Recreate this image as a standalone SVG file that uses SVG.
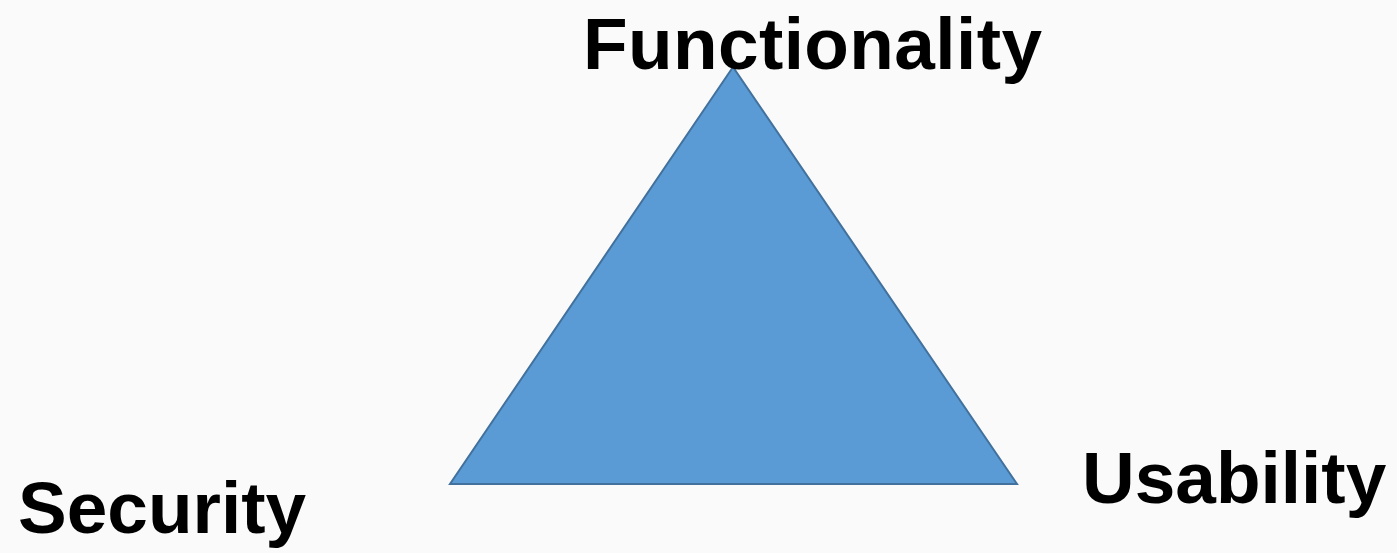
<svg xmlns="http://www.w3.org/2000/svg" width="1397" height="553" viewBox="0 0 1397 553">
<style>
.lbl{font-family:"Liberation Sans",Arial,sans-serif;font-weight:bold;font-size:73px;fill:#000}
</style>
<rect width="1397" height="553" fill="#fafafa"/>
<g id="triangle">
<polygon points="733,67 450,484 1017,484" fill="#5b9bd5" stroke="#41719c" stroke-width="2"/>
</g>
<g id="functionality"><text class="lbl" x="583" y="69" textLength="459" lengthAdjust="spacing">Functionality</text></g>
<g id="security"><text class="lbl" x="18" y="533">Security</text></g>
<g id="usability"><text class="lbl" x="1082" y="503">Usability</text></g>
</svg>
